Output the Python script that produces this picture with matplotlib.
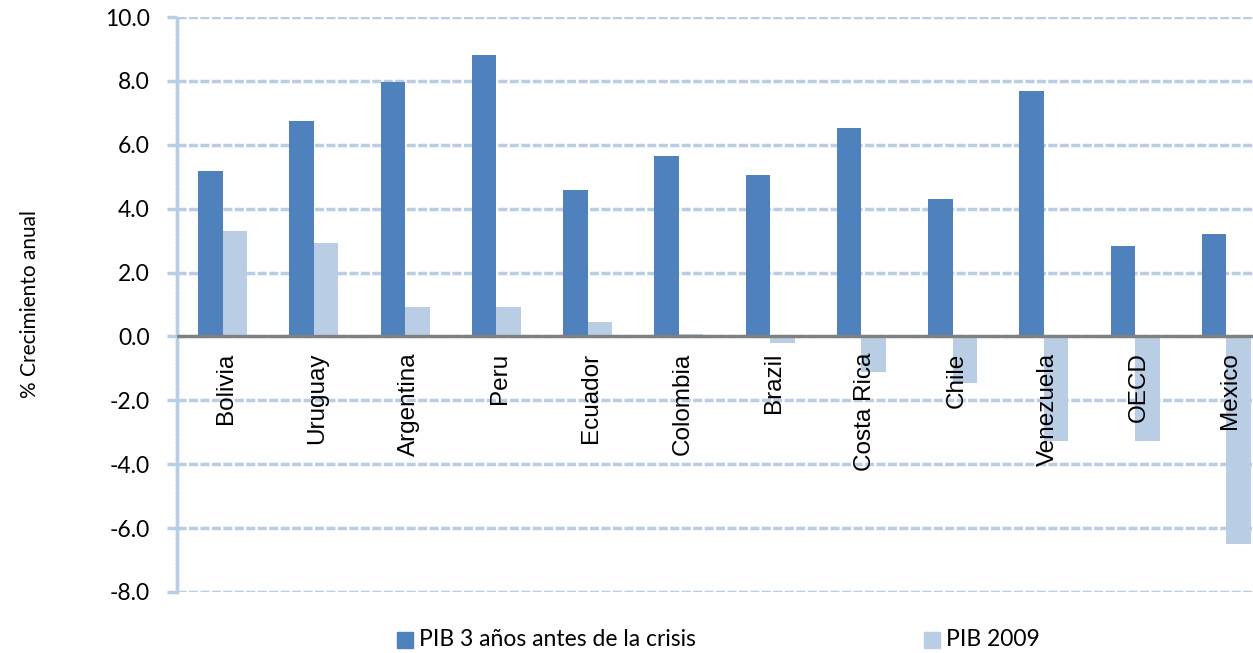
import matplotlib
matplotlib.use("Agg")
import matplotlib.pyplot as plt
import numpy as np
from matplotlib.patches import Rectangle

categories = ["Bolivia", "Uruguay", "Argentina", "Peru", "Ecuador", "Colombia",
              "Brazil", "Costa Rica", "Chile", "Venezuela", "OECD", "Mexico"]
pib_3_anos = [5.17, 6.76, 7.98, 8.80, 4.60, 5.64, 5.04, 6.51, 4.29, 7.67, 2.82, 3.22]
pib_2009 = [3.29, 2.91, 0.91, 0.91, 0.44, 0.09, -0.19, -1.10, -1.47, -3.26, -3.26, -6.51]
yticks = [10.0, 8.0, 6.0, 4.0, 2.0, 0.0, -2.0, -4.0, -6.0, -8.0]
series_names = ["PIB 3 años antes de la crisis", "PIB 2009"]

BLUE = "#4f81bd"
LIGHT = "#b9cde5"

fig = plt.figure(figsize=(12.53, 6.53), dpi=100)
W, H = 1253, 653
left, right, top, bottom = 177, 1272, 17, 592
ax = fig.add_axes([left / W, 1 - bottom / H, (right - left) / W, (bottom - top) / H])

x = np.arange(len(categories))
bw = 0.268
ax.bar(x - bw / 2, pib_3_anos, width=bw, color=BLUE, zorder=3)
ax.bar(x + bw / 2, pib_2009, width=bw, color=LIGHT, zorder=3)

ax.set_xlim(-0.5, len(categories) - 0.5)
ax.set_ylim(-8, 10)
ax.set_yticks(yticks)
ax.set_yticklabels([f"{v:.1f}" for v in yticks], fontfamily="Lato", fontsize=16.5)
ax.set_xticks([])

ax.grid(axis="y", color=LIGHT, linestyle=(0, (2.6, 0.7)), linewidth=2.5, zorder=0)
ax.axhline(0, color="#808080", linewidth=2.4, zorder=4)

for s in ["top", "right", "bottom"]:
    ax.spines[s].set_visible(False)
ax.spines["left"].set_color(LIGHT)
ax.spines["left"].set_linewidth(2.5)
ax.spines["left"].set_linestyle((0, (0.8, 0.4)))
ax.tick_params(axis="y", length=7.5, width=2.5, color=LIGHT, pad=12)

for i, c in enumerate(categories):
    ax.text(i + 0.04, -0.5, c, rotation=90, ha="center", va="top",
            fontsize=17.5, fontfamily="Liberation Sans", zorder=5)

fig.text(30 / W, 1 - 304 / H, "% Crecimiento anual", rotation=90, ha="center", va="center",
         fontsize=15, fontfamily="Lato")

# legend entries
legend_x = [397, 924]
colors = [BLUE, LIGHT]
for lx, col, name in zip(legend_x, colors, series_names):
    fig.patches.append(Rectangle((lx / W, 1 - 648 / H), 16 / W, 16 / H,
                                 transform=fig.transFigure, color=col, figure=fig))
    fig.text((lx + 22) / W, 1 - 639 / H, name, ha="left", va="center",
             fontsize=16.5, fontfamily="Lato")

fig.savefig("out.png", dpi=100)
